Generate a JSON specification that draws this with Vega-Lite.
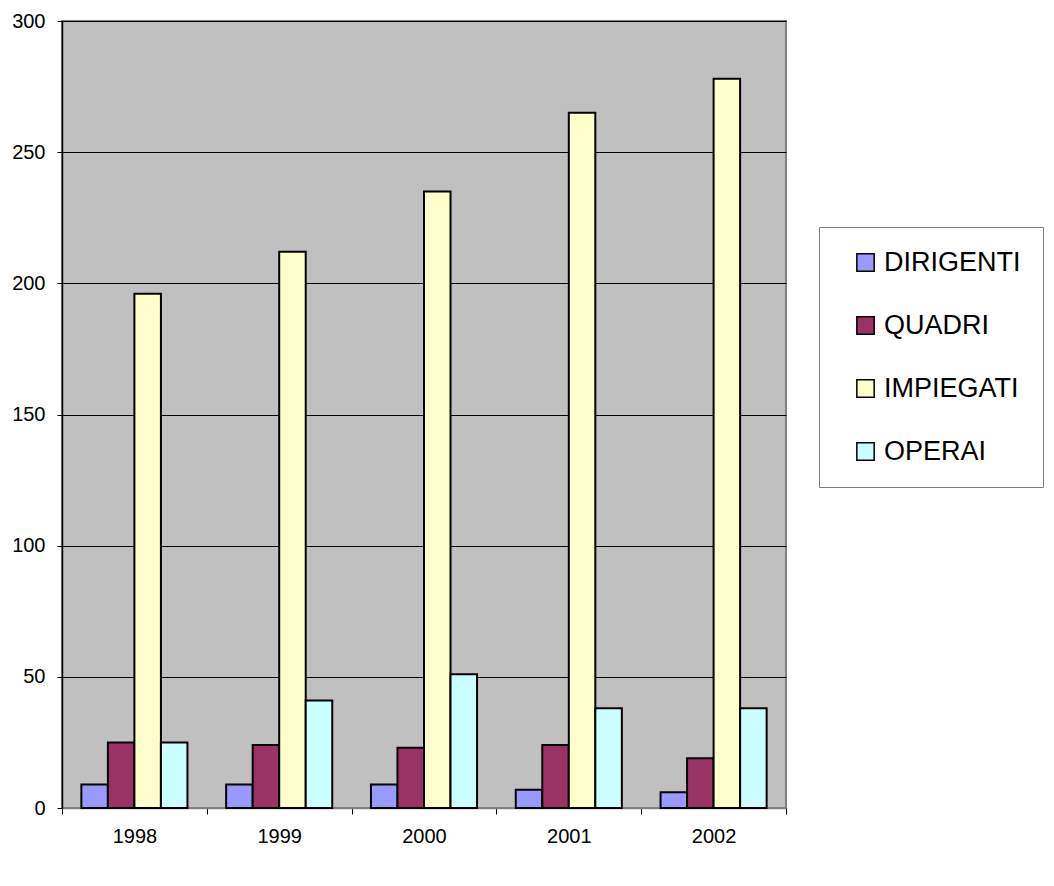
{
  "$schema": "https://vega.github.io/schema/vega-lite/v6.json",
  "autosize": {"type": "none"},
  "width": 724,
  "height": 787,
  "padding": {"left": 62, "top": 21, "right": 268, "bottom": 78},
  "background": "white",
  "data": {
    "values": [
      {"anno": "1998", "categoria": "DIRIGENTI", "n": 9},
      {"anno": "1998", "categoria": "QUADRI", "n": 25},
      {"anno": "1998", "categoria": "IMPIEGATI", "n": 196},
      {"anno": "1998", "categoria": "OPERAI", "n": 25},
      {"anno": "1999", "categoria": "DIRIGENTI", "n": 9},
      {"anno": "1999", "categoria": "QUADRI", "n": 24},
      {"anno": "1999", "categoria": "IMPIEGATI", "n": 212},
      {"anno": "1999", "categoria": "OPERAI", "n": 41},
      {"anno": "2000", "categoria": "DIRIGENTI", "n": 9},
      {"anno": "2000", "categoria": "QUADRI", "n": 23},
      {"anno": "2000", "categoria": "IMPIEGATI", "n": 235},
      {"anno": "2000", "categoria": "OPERAI", "n": 51},
      {"anno": "2001", "categoria": "DIRIGENTI", "n": 7},
      {"anno": "2001", "categoria": "QUADRI", "n": 24},
      {"anno": "2001", "categoria": "IMPIEGATI", "n": 265},
      {"anno": "2001", "categoria": "OPERAI", "n": 38},
      {"anno": "2002", "categoria": "DIRIGENTI", "n": 6},
      {"anno": "2002", "categoria": "QUADRI", "n": 19},
      {"anno": "2002", "categoria": "IMPIEGATI", "n": 278},
      {"anno": "2002", "categoria": "OPERAI", "n": 38}
    ]
  },
  "mark": {"type": "bar", "stroke": "black", "strokeWidth": 2, "opacity": 1},
  "encoding": {
    "x": {
      "field": "anno", "type": "nominal",
      "scale": {"paddingInner": 0, "paddingOuter": 0},
      "axis": {
        "title": null, "labelAngle": 0, "tickBand": "extent", "grid": false,
        "domainColor": "#808080", "domainWidth": 1.5, "tickColor": "black", "tickSize": 6,
        "labelPadding": 12, "labelFontSize": 20, "labelFont": "Liberation Sans", "labelColor": "black"
      }
    },
    "xOffset": {
      "field": "categoria", "type": "nominal",
      "sort": ["DIRIGENTI", "QUADRI", "IMPIEGATI", "OPERAI"],
      "scale": {"paddingInner": 0, "paddingOuter": 0.73}
    },
    "y": {
      "field": "n", "type": "quantitative",
      "scale": {"domain": [0, 300], "nice": false},
      "axis": {
        "title": null, "values": [0, 50, 100, 150, 200, 250, 300],
        "grid": true, "gridColor": "black", "gridWidth": 1, "gridOpacity": 1,
        "domainColor": "black", "domainWidth": 1.5, "tickColor": "black", "tickSize": 5,
        "labelPadding": 12, "labelFontSize": 20, "labelFont": "Liberation Sans", "labelColor": "black"
      }
    },
    "color": {
      "field": "categoria", "type": "nominal",
      "sort": ["DIRIGENTI", "QUADRI", "IMPIEGATI", "OPERAI"],
      "scale": {
        "domain": ["DIRIGENTI", "QUADRI", "IMPIEGATI", "OPERAI"],
        "range": ["#9999FF", "#993366", "#FFFFCC", "#CCFFFF"]
      },
      "legend": {
        "title": null, "orient": "none", "legendX": 757, "legendY": 206,
        "padding": 22, "strokeColor": "#808080", "fillColor": "white",
        "symbolType": "square", "symbolSize": 300, "symbolStrokeColor": "black",
        "symbolStrokeWidth": 1.5, "symbolOpacity": 1, "symbolOffset": 11,
        "labelFontSize": 27, "labelFont": "Liberation Sans", "labelColor": "black",
        "labelOffset": 5, "rowPadding": 35, "labelLimit": 400
      }
    }
  },
  "config": {
    "view": {"fill": "#C0C0C0", "stroke": "#808080", "strokeWidth": 2}
  }
}
